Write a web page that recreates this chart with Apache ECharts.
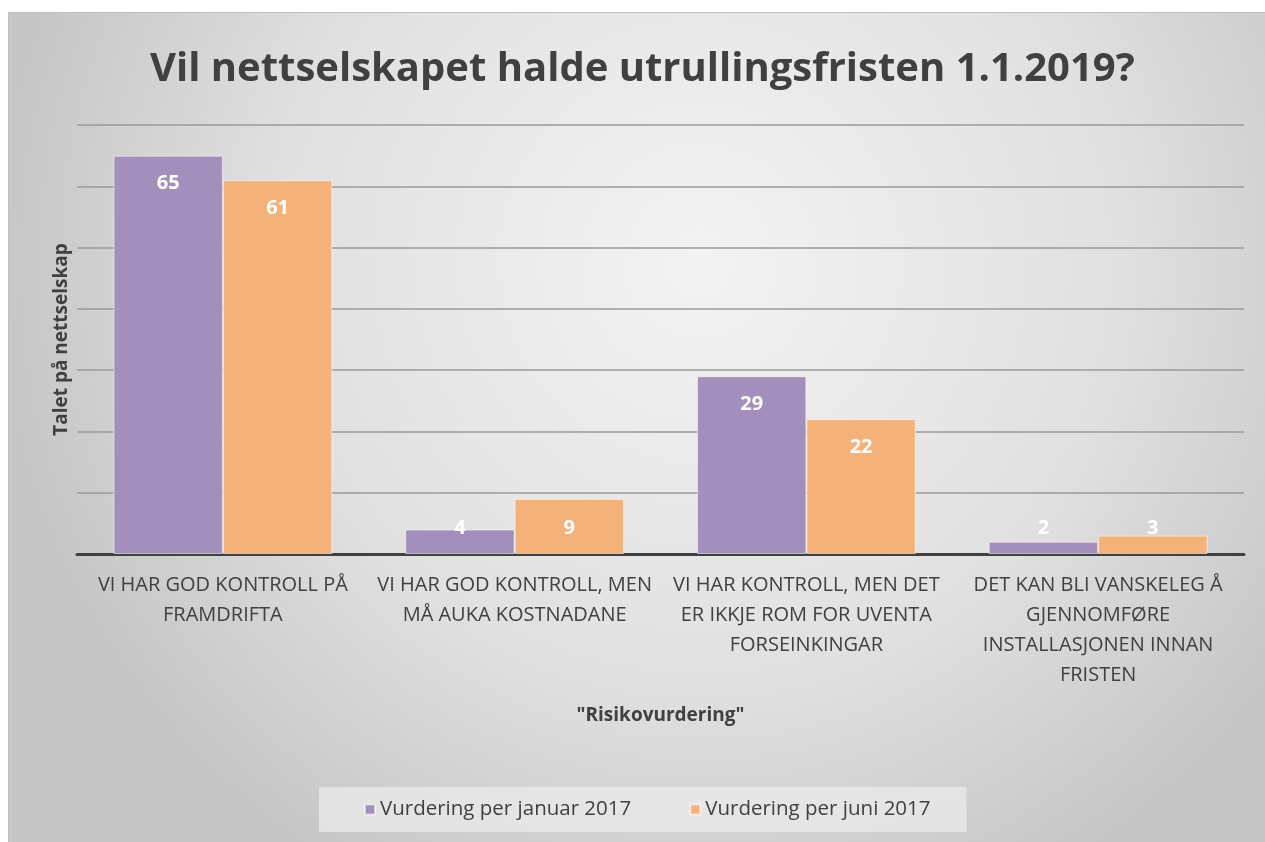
<!DOCTYPE html>
<html>
<head>
<meta charset="utf-8">
<script src="https://cdn.jsdelivr.net/npm/echarts@6/dist/echarts.min.js"></script>
<style>
  html, body { margin: 0; padding: 0; background: #fff; }
  #chart {
    position: absolute; left: 8px; top: 12px;
    width: 1256px; height: 829px;
    border-top: 1px solid #bfbfbf; border-left: 1px solid #bfbfbf;
  }
</style>
</head>
<body>
<div id="chart"></div>
<script>
// data
const categories = [
  'VI HAR GOD KONTROLL PÅ\nFRAMDRIFTA',
  'VI HAR GOD KONTROLL, MEN\nMÅ AUKA KOSTNADANE',
  'VI HAR KONTROLL, MEN DET\nER IKKJE ROM FOR UVENTA\nFORSEINKINGAR',
  'DET KAN BLI VANSKELEG Å\nGJENNOMFØRE\nINSTALLASJONEN INNAN\nFRISTEN'
];
const januar2017 = [65, 4, 29, 2];
const juni2017 = [61, 9, 22, 3];
const seriesNames = ['Vurdering per januar 2017', 'Vurdering per juni 2017'];

const font = '"Open Sans", "Noto Sans", sans-serif';

// small bars: put label just above baseline instead of inside top
const toItems = arr => arr.map(v => v < 10
  ? { value: v, label: { position: 'insideBottom', distance: 16 } }
  : { value: v });

const myChart = echarts.init(document.getElementById('chart'));

const barStyle = color => ({
  color: color,
  borderColor: 'rgba(255,255,255,0.55)',
  borderWidth: 1
});
const barLabel = {
  show: true,
  position: 'insideTop',
  distance: 18,
  color: '#fff',
  fontFamily: font,
  fontWeight: 'bold',
  fontSize: 20
};

const option = {
  backgroundColor: {
    type: 'radial', x: 0.55, y: 0.3, r: 0.85,
    colorStops: [
      { offset: 0, color: '#f3f3f3' },
      { offset: 0.6, color: '#e0e0e0' },
      { offset: 1, color: '#c6c6c6' }
    ]
  },
  title: {
    text: 'Vil nettselskapet halde utrullingsfristen 1.1.2019?',
    left: 136,
    top: 32,
    textStyle: { fontFamily: font, fontWeight: 'bold', fontSize: 40, color: '#404040' }
  },
  legend: {
    bottom: 10,
    left: 310,
    data: seriesNames,
    icon: 'rect',
    itemWidth: 10,
    itemHeight: 10,
    itemGap: 58,
    padding: [12, 36, 12, 45],
    backgroundColor: 'rgba(235,235,235,0.75)',
    textStyle: { fontFamily: font, fontSize: 20.5, color: '#404040' }
  },
  grid: { left: 68, right: 21, top: 112, bottom: 288 },
  xAxis: {
    type: 'category',
    data: categories,
    name: '"Risikovurdering"',
    nameLocation: 'middle',
    nameGap: 152,
    nameTextStyle: { fontFamily: font, fontWeight: 'bold', fontSize: 19, color: '#404040' },
    axisLine: { lineStyle: { color: '#404040', width: 3 } },
    axisTick: { show: false },
    axisLabel: {
      interval: 0,
      margin: 16,
      fontFamily: font,
      fontSize: 20,
      lineHeight: 30,
      color: '#404040'
    }
  },
  yAxis: {
    type: 'value',
    min: 0,
    max: 70,
    interval: 10,
    name: 'Talet på nettselskap',
    nameLocation: 'middle',
    nameGap: 6,
    nameTextStyle: { fontFamily: font, fontWeight: 'bold', fontSize: 19, color: '#404040' },
    axisLabel: { show: false },
    axisLine: { show: false },
    axisTick: { show: false },
    splitLine: { lineStyle: { color: '#9a9a9a', width: 1.5 } }
  },
  series: [
    {
      name: seriesNames[0],
      type: 'bar',
      data: toItems(januar2017),
      barGap: '0%',
      barCategoryGap: '25%',
      itemStyle: barStyle('#a28fbb'),
      label: barLabel
    },
    {
      name: seriesNames[1],
      type: 'bar',
      data: toItems(juni2017),
      itemStyle: barStyle('#f4b27a'),
      label: barLabel
    }
  ]
};

myChart.setOption(option);
window.addEventListener('resize', () => myChart.resize());
</script>
</body>
</html>
